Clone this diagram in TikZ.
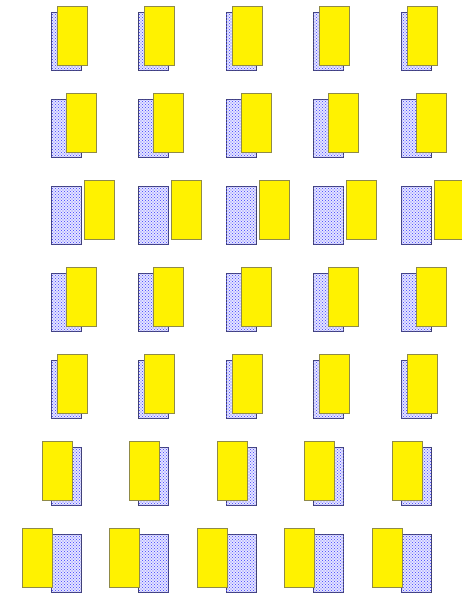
\documentclass[tikz,border=0pt]{standalone}
\usetikzlibrary{patterns}

% staggered blue dots of the card
\pgfdeclarepatternformonly{carddots}{\pgfpoint{-1pt}{-1pt}}{\pgfpoint{4pt}{4pt}}{\pgfpoint{3pt}{3pt}}{
  \pgfpathcircle{\pgfpoint{0pt}{0pt}}{.6pt}
  \pgfpathcircle{\pgfpoint{1.5pt}{1.5pt}}{.6pt}
  \pgfusepath{fill}}

\begin{document}
\begin{tikzpicture}[x=1pt,y=-1pt,
card/.style={draw=blue!25!black!75,fill=blue!8,minimum width=30pt,minimum height=58pt,inner sep=0pt,line width=.8pt,
  postaction={pattern=carddots,pattern color=blue!65}},
sheet/.style={draw=black!50!yellow,fill=yellow,minimum width=30pt,minimum height=59pt,inner sep=0pt,line width=.8pt}]
\useasboundingbox (0,0) rectangle (461,595);
% one row per step, the yellow sheet slides over the dotted card
\foreach \dx [count=\r from 0] in {6,15,33,15,6,-9,-29}
  \foreach \c in {0,...,4}{
    \node[card] (card-\r-\c) at (66+87.5*\c,41+87*\r) {};
    \node[sheet] (sheet-\r-\c) at (66+87.5*\c+\dx,35.5+87*\r) {};
  }
\end{tikzpicture}
\end{document}
